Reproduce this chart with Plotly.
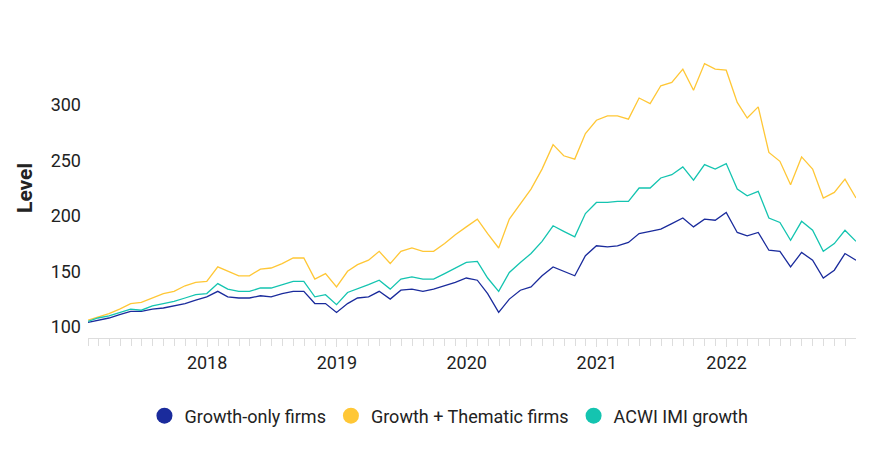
import plotly.graph_objects as go
import pandas as pd

dates = pd.date_range("2017-01-31", "2022-12-31", freq="ME")

growth_only = [104, 106, 108, 111, 114, 114, 116, 117, 119, 121, 124, 127,
               132, 127, 126, 126, 128, 127, 130, 132, 132, 121, 121, 113,
               121, 126, 127, 132, 125, 133, 134, 132, 134, 137, 140, 144,
               142, 130, 113, 125, 133, 136, 146, 154, 150, 146, 164, 173,
               172, 173, 176, 184, 186, 188, 193, 198, 190, 197, 196, 203,
               185, 182, 185, 169, 168, 154, 167, 160, 144, 151, 166, 160]
growth_thematic = [106, 109, 112, 116, 121, 122, 126, 130, 132, 137, 140, 141,
                   154, 150, 146, 146, 152, 153, 157, 162, 162, 143, 148, 136,
                   150, 156, 160, 168, 157, 168, 171, 168, 168, 175, 183, 190,
                   197, 184, 171, 197, 211, 224, 242, 264, 254, 251, 274, 286,
                   290, 290, 287, 306, 301, 317, 320, 332, 313, 337, 332, 331,
                   302, 288, 298, 257, 249, 228, 253, 242, 216, 221, 233, 216]
acwi_growth = [105, 108, 110, 113, 116, 115, 119, 121, 123, 126, 129, 130,
               139, 134, 132, 132, 135, 135, 138, 141, 141, 127, 129, 120,
               131, 134, 138, 142, 134, 143, 145, 143, 143, 148, 153, 158,
               159, 144, 132, 149, 158, 166, 177, 191, 186, 181, 202, 212,
               212, 213, 213, 225, 225, 234, 237, 244, 232, 246, 242, 247,
               224, 218, 222, 198, 194, 178, 195, 187, 168, 175, 187, 177]

names = ["Growth-only firms", "Growth + Thematic firms", "ACWI IMI growth"]
colours = ["#1a2b9c", "#ffc736", "#14c4b0"]
series = [growth_only, growth_thematic, acwi_growth]

fig = go.Figure()
for name, col, vals in zip(names, colours, series):
    fig.add_trace(go.Scatter(x=dates, y=vals, mode="lines", line=dict(color=col, width=1.3),
                             showlegend=False, name=name))
# circle markers for the legend
for name, col in zip(names, colours):
    fig.add_trace(go.Scatter(x=[None], y=[None], mode="markers", name=name,
                             marker=dict(color=col, size=17)))

fig.update_layout(
    width=870, height=465,
    margin=dict(l=80, r=22, t=30, b=135),
    plot_bgcolor="white", paper_bgcolor="white",
    font=dict(family="Roboto", size=18, color="#222"),
    legend=dict(orientation="h", x=0.47, xanchor="center", y=-0.26, yanchor="middle",
                font=dict(size=18), itemwidth=30, entrywidthmode="pixels"),
    xaxis=dict(range=["2017-01-31", "2022-12-31"], showgrid=False,
               showline=True, linecolor="#ddd",
               tickvals=["2018-01-01", "2019-01-01", "2020-01-01", "2021-01-01", "2022-01-01"],
               ticktext=["2018", "2019", "2020", "2021", "2022"],
               ticks="outside", ticklen=8, tickcolor="#ddd",
               minor=dict(dtick="M1", tick0="2017-01-01", ticks="outside", ticklen=7,
                          tickcolor="#ddd", showgrid=False)),
    yaxis=dict(range=[90, 360], tickvals=[100, 150, 200, 250, 300], showgrid=False,
               zeroline=False, automargin=False, ticklabelstandoff=6,
               title=dict(text="<b>Level</b>", font=dict(size=21), standoff=12)),
)

fig.write_html("out.html")
